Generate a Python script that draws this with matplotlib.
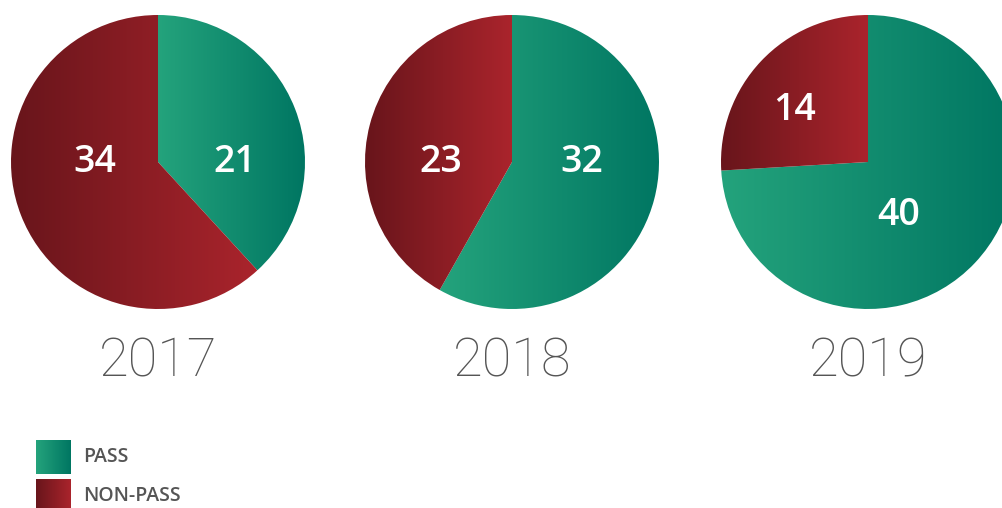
import numpy as np
import matplotlib
matplotlib.use('Agg')
import matplotlib.pyplot as plt
from matplotlib.colors import LinearSegmentedColormap
from matplotlib.patches import Rectangle

years = ['2017', '2018', '2019']
pass_counts = [21, 32, 40]
non_pass_counts = [34, 23, 14]
legend_labels = ['PASS', 'NON-PASS']

# layout (pixel units, origin bottom-left)
W, H = 1003, 508
centers_x = [158, 512, 868]
center_y = H - 162
radius = 147
# label offsets from pie centre: (pass, non-pass)
label_offsets = [((77, 0), (-63, 0)), ((70, 0), (-71, 0)), ((31, -53), (-73, 52))]

green_cmap = LinearSegmentedColormap.from_list('g', ['#24a37c', '#007662'])
red_cmap = LinearSegmentedColormap.from_list('r', ['#68151b', '#aa242c'])
grad = np.linspace(0, 1, 256).reshape(1, -1)

fig = plt.figure(figsize=(W / 100, H / 100), dpi=100)
ax = fig.add_axes([0, 0, 1, 1])


def fill_gradient(patch, cmap):
    bb = patch.get_path().get_extents(patch.get_patch_transform())
    im = ax.imshow(grad, cmap=cmap, extent=[bb.x0, bb.x1, bb.y0, bb.y1],
                   aspect='auto', interpolation='bicubic', zorder=1)
    im.set_clip_path(patch)


for i, year in enumerate(years):
    cx = centers_x[i]
    wedges, _ = ax.pie([pass_counts[i], non_pass_counts[i]], center=(cx, center_y),
                       radius=radius, startangle=90, counterclock=False,
                       wedgeprops=dict(facecolor='none', edgecolor='none'),
                       frame=True)
    fill_gradient(wedges[0], green_cmap)
    fill_gradient(wedges[1], red_cmap)
    (px, py), (nx, ny) = label_offsets[i]
    ax.text(cx + px, center_y + py, str(pass_counts[i]), color='white', fontsize=27,
            fontweight='semibold', family='Open Sans', ha='center', va='center', zorder=3)
    ax.text(cx + nx, center_y + ny, str(non_pass_counts[i]), color='white', fontsize=27,
            fontweight='semibold', family='Open Sans', ha='center', va='center', zorder=3)
    ax.text(cx, H - 362, year, color='#555555', fontsize=39, fontweight='light',
            family='Roboto', ha='center', va='center', zorder=3)

# legend
for j, (lab, cmap) in enumerate(zip(legend_labels, [green_cmap, red_cmap])):
    y0 = H - 474 - j * 39
    rect = Rectangle((36, y0), 35, 34, facecolor='none', edgecolor='none')
    ax.add_patch(rect)
    im = ax.imshow(grad, cmap=cmap, extent=[36, 71, y0, y0 + 34], aspect='auto', zorder=1)
    im.set_clip_path(rect)
    ax.text(83, y0 + 17, lab, color='#555555', fontsize=14, family='Open Sans',
            fontweight='semibold', ha='left', va='center')

ax.set_xlim(0, W)
ax.set_ylim(0, H)
ax.set_aspect('equal')
ax.axis('off')
fig.savefig('out.png', dpi=100)
